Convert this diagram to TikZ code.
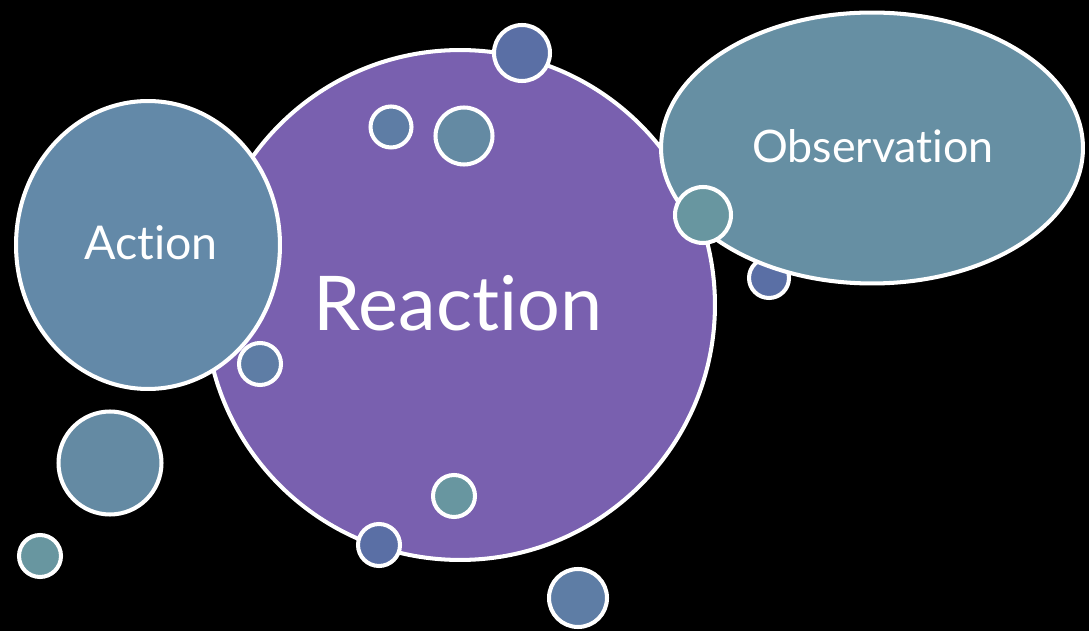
\documentclass[tikz,border=0pt]{standalone}
\usepackage{fontspec}
\setmainfont{Lato}[Ligatures=NoCommon]
\usepackage{xcolor}
\usetikzlibrary{shapes.geometric}
\definecolor{reactfill}{HTML}{7960AF}
\definecolor{actfill}{HTML}{6389A8}
\definecolor{obsfill}{HTML}{668FA3}
\definecolor{dotblue}{HTML}{5A6FA5}
\definecolor{dotmid}{HTML}{5E7DA5}
\definecolor{dotsteel}{HTML}{648AA3}
\definecolor{dotteal}{HTML}{6896A0}
\tikzset{
  bubble/.style={draw=white, line width=2.3pt, inner sep=0pt},
  big/.style={bubble, ellipse, text=white},
  dot/.style={bubble, circle, minimum size=#1},
}
\begin{document}
\begin{tikzpicture}[x=0.02cm, y=-0.02cm]
  \fill[black] (0,0) rectangle (1089,631);
  \useasboundingbox (0,0) rectangle (1089,631);
  % main bubble
  \node[big, circle, fill=reactfill, minimum size=10.2cm] (reaction) at (460,305) {};
  \node[text=white, font=\fontsize{43}{50}\selectfont] (reactionlabel) at (458,303) {Reaction};
  \node[big, fill=actfill, minimum width=5.28cm, minimum height=5.76cm] (action) at (148,245) {};
  \node[text=white, font=\fontsize{26.5}{32}\selectfont] (actionlabel) at (151,243) {Action};
  % small bubbles inside
  \node[dot=0.82cm, fill=dotmid] (d1) at (391,127) {};
  \node[dot=1.14cm, fill=dotsteel] (d2) at (464,136) {};
  \node[dot=0.84cm, fill=dotmid] (d3) at (260,364) {};
  \node[dot=0.84cm, fill=dotteal] (d4) at (454,496) {};
  \node[dot=0.8cm, fill=dotblue] (d5) at (769,278) {};
  \node[big, fill=obsfill, minimum width=8.44cm, minimum height=5.42cm] (observation) at (872,148) {};
  \node[text=white, font=\fontsize{25.5}{32}\selectfont] (observationlabel) at (873,146) {Observation};
  % small bubbles on top
  \node[dot=1.12cm, fill=dotteal] (d6) at (703,215) {};
  \node[dot=1.12cm, fill=dotblue] (d7) at (522,53) {};
  \node[dot=0.84cm, fill=dotblue] (d8) at (379,545) {};
  \node[dot=1.16cm, fill=dotmid] (d9) at (578,598) {};
  \node[dot=2.06cm, fill=dotsteel] (d10) at (110,463) {};
  \node[dot=0.84cm, fill=dotteal] (d11) at (40,556) {};
\end{tikzpicture}
\end{document}
